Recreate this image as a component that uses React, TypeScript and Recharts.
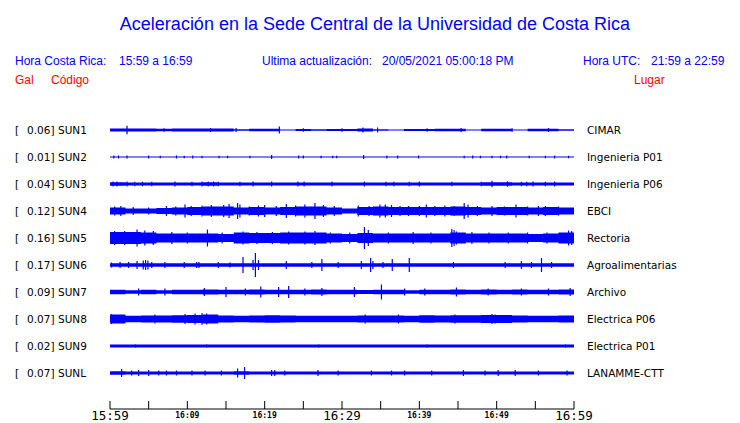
import React from 'react';
import { ComposedChart, Area, Line, XAxis, YAxis } from 'recharts';

// ---------------- data ----------------
const stationCodes = ['SUN1', 'SUN2', 'SUN3', 'SUN4', 'SUN5', 'SUN6', 'SUN7', 'SUN8', 'SUN9', 'SUNL'];
const stationGal = [0.06, 0.01, 0.04, 0.12, 0.16, 0.17, 0.09, 0.07, 0.02, 0.07];
const stationPlaces = ['CIMAR', 'Ingenieria P01', 'Ingenieria P06', 'EBCI', 'Rectoria', 'Agroalimentarias', 'Archivo', 'Electrica P06', 'Electrica P01', 'LANAMME-CTT'];

const timeTickMinutes = [0, 5, 10, 15, 20, 25, 30, 35, 40, 45, 50, 55, 60];
const timeTickLabels = ['15:59', '', '16:09', '', '16:19', '', '16:29', '', '16:39', '', '16:49', '', '16:59'];

const headerTitle = 'Aceleración en la Sede Central de la Universidad de Costa Rica';
const localTime = '15:59 a 16:59';
const updateTime = '20/05/2021 05:00:18 PM';
const utcTime = '21:59 a 22:59';

// envelope half-amplitude of each trace, every 2 minutes (30 bins)
const sun1Band = [1.4, 1.4, 1.4, 1.3, 1.4, 1.4, 1.4, 1.4, 0.7, 1.2, 1.3, 0.6, 1.1, 0.7, 1.1, 1.1, 1.6, 0.7, 0.6, 1.1, 1.1, 1.2, 1.2, 0.6, 1.2, 1.2, 0.6, 1.3, 1.3, 0.8];
const sun2Band = [0.6, 0.6, 0.6, 0.6, 0.6, 0.6, 0.6, 0.6, 0.6, 0.6, 0.6, 0.6, 0.6, 0.6, 0.6, 0.6, 0.6, 0.6, 0.6, 0.6, 0.6, 0.6, 0.6, 0.6, 0.6, 0.6, 0.6, 0.6, 0.6, 0.6];
const sun3Band = [1.7, 1.6, 1.6, 1.6, 1.6, 1.6, 1.7, 1.6, 1.6, 1.6, 1.6, 1.6, 1.6, 1.6, 1.6, 1.6, 1.6, 1.6, 1.6, 1.6, 1.6, 1.6, 1.6, 1.6, 1.7, 1.7, 1.6, 1.6, 1.6, 1.6];
const sun4Band = [3.5, 2.5, 2.5, 3.0, 3.5, 4.0, 4.5, 4.5, 3.5, 4.0, 3.5, 4.0, 4.5, 4.5, 3.5, 2.5, 4.0, 4.5, 4.0, 4.0, 4.0, 4.0, 4.5, 4.0, 3.5, 4.0, 4.0, 3.5, 4.0, 3.5];
const sun5Band = [6.0, 6.0, 5.5, 4.5, 4.5, 4.5, 4.5, 4.0, 5.5, 5.0, 5.0, 5.5, 5.5, 5.5, 4.5, 4.0, 5.0, 4.5, 4.5, 4.5, 4.5, 4.5, 5.5, 4.5, 4.5, 4.5, 4.5, 4.0, 4.5, 5.5];
const sun6Band = [1.8, 1.8, 1.8, 1.7, 1.7, 1.7, 1.7, 1.7, 1.8, 1.7, 1.7, 1.7, 1.7, 1.7, 1.7, 1.7, 1.8, 1.7, 1.7, 1.7, 1.7, 1.7, 1.7, 1.7, 1.7, 1.7, 1.7, 1.8, 1.7, 1.7];
const sun7Band = [2.3, 1.8, 2.2, 1.8, 2.3, 2.2, 2.4, 2.3, 2.2, 2.4, 2.3, 2.3, 2.2, 2.4, 2.2, 2.3, 2.0, 2.3, 2.2, 1.8, 2.3, 2.2, 2.4, 2.3, 2.4, 2.3, 2.4, 2.2, 2.2, 2.4];
const sun8Band = [4.5, 3.3, 3.5, 3.5, 3.8, 4.0, 4.5, 3.5, 3.3, 3.5, 3.8, 3.5, 3.3, 3.3, 3.3, 3.3, 3.5, 3.5, 3.5, 3.3, 3.8, 3.5, 3.8, 3.8, 4.0, 4.0, 3.5, 3.3, 3.3, 3.5];
const sun9Band = [1.4, 1.4, 1.4, 1.4, 1.4, 1.4, 1.4, 1.4, 1.4, 1.4, 1.4, 1.4, 1.4, 1.4, 1.4, 1.4, 1.4, 1.4, 1.4, 1.4, 1.4, 1.4, 1.4, 1.4, 1.4, 1.4, 1.4, 1.4, 1.4, 1.4];
const sunLBand = [1.7, 1.6, 1.6, 1.6, 1.6, 1.6, 1.6, 1.6, 1.7, 1.6, 1.6, 1.6, 1.6, 1.6, 1.6, 1.6, 1.6, 1.6, 1.6, 1.6, 1.6, 1.6, 1.6, 1.6, 1.6, 1.6, 1.6, 1.6, 1.6, 1.6];

// spikes: [minute, half-amplitude]
const sun1Spikes = [[2.2, 4.3], [7.0, 1.8], [13.0, 2.0], [16.3, 2.0], [21.9, 3.5], [25.0, 1.8], [30.0, 1.7], [32.7, 2.5], [34.6, 2.5], [41.0, 1.7], [45.4, 2.0], [52.0, 1.8], [56.7, 2.0]];
const sun2Spikes = [[0.5, 1.5], [1.1, 1.5], [2.2, 1.5], [5.0, 1.5], [6.5, 1.2], [8.6, 1.5], [9.6, 1.2], [10.7, 1.5], [11.9, 1.2], [14.1, 1.2], [15.2, 1.2], [18.1, 1.2], [20.9, 2.0], [24.4, 1.5], [25.0, 1.5], [27.3, 1.2], [28.8, 1.2], [29.3, 1.2], [32.8, 2.0], [35.8, 1.5], [37.2, 1.5], [39.9, 1.5], [45.8, 1.2], [46.9, 1.5], [47.9, 1.2], [49.4, 1.2], [50.5, 1.2], [51.3, 1.5], [54.2, 1.2], [56.3, 1.2], [57.5, 1.5], [59.3, 1.2]];
const sun3Spikes = [[0.4, 2.5], [0.9, 2.5], [2.2, 2.5], [3.2, 2.3], [4.2, 2.3], [5.4, 2.3], [8.4, 2.5], [10.6, 2.3], [11.9, 2.5], [12.7, 2.5], [13.4, 2.5], [14.0, 2.3], [16.8, 2.3], [18.5, 2.5], [20.9, 2.5], [24.3, 2.5], [25.1, 2.5], [28.7, 2.5], [32.9, 2.5], [35.7, 2.3], [36.7, 2.3], [38.7, 2.3], [40.0, 2.5], [44.2, 2.3], [48.0, 2.3], [49.4, 3.3], [51.4, 2.8], [53.2, 2.3], [53.9, 2.3], [54.7, 2.5], [56.3, 2.3], [57.5, 2.5]];
const sun4Spikes = [[0.6, 4.5], [1.4, 5.0], [3.0, 4.0], [5.0, 3.5], [7.3, 5.0], [8.5, 4.5], [9.7, 6.5], [10.5, 5.0], [11.9, 5.5], [13.1, 6.0], [14.7, 6.0], [15.4, 7.0], [16.5, 8.0], [16.8, 6.5], [18.0, 4.5], [19.2, 5.5], [20.0, 6.0], [21.5, 5.0], [22.8, 7.0], [24.0, 5.5], [25.2, 6.5], [26.5, 8.0], [27.6, 6.0], [29.0, 5.0], [32.1, 5.5], [33.5, 5.0], [34.9, 6.5], [35.6, 6.5], [36.4, 6.0], [37.5, 5.0], [38.6, 5.0], [40.0, 5.0], [40.9, 6.5], [42.0, 5.0], [43.3, 5.5], [44.5, 5.0], [45.8, 8.0], [46.3, 6.5], [47.5, 5.0], [49.4, 5.0], [51.0, 4.5], [52.5, 6.5], [54.0, 4.5], [55.4, 5.0], [56.3, 5.0], [58.0, 4.5]];
const sun5Spikes = [[0.6, 7.0], [1.9, 7.0], [3.5, 8.5], [4.5, 7.5], [5.6, 7.0], [8.0, 6.0], [10.0, 5.5], [12.6, 8.5], [14.5, 5.5], [17.2, 6.5], [19.0, 6.0], [21.0, 6.0], [23.1, 6.5], [25.2, 6.5], [26.5, 7.0], [28.5, 5.5], [31.0, 5.5], [32.9, 11.0], [33.4, 8.0], [36.0, 5.5], [39.2, 6.0], [41.5, 5.5], [44.2, 9.0], [44.5, 8.0], [44.8, 6.5], [46.8, 6.0], [49.0, 5.5], [51.5, 5.5], [54.0, 5.5], [56.5, 5.5], [59.3, 7.5], [59.7, 7.0]];
const sun6Spikes = [[0.2, 2.5], [1.3, 3.0], [2.4, 3.0], [3.5, 4.0], [4.3, 4.5], [4.6, 5.0], [4.9, 4.5], [5.4, 3.0], [7.1, 3.0], [9.6, 3.0], [11.2, 3.0], [11.5, 3.0], [14.0, 3.0], [15.5, 2.5], [17.2, 8.0], [18.5, 5.0], [18.8, 12.0], [19.2, 5.0], [22.8, 4.0], [26.1, 3.0], [27.4, 6.0], [29.5, 3.0], [32.5, 4.0], [33.7, 7.0], [34.0, 4.0], [35.3, 3.0], [36.5, 6.0], [38.7, 7.0], [44.4, 3.0], [51.1, 3.0], [53.2, 4.0], [54.5, 3.0], [55.8, 7.0], [57.1, 3.0]];
const sun7Spikes = [[3.7, 3.5], [7.1, 3.5], [12.2, 4.0], [15.0, 5.0], [17.5, 3.5], [19.5, 5.5], [21.8, 5.0], [23.1, 6.0], [25.2, 3.5], [27.4, 4.0], [31.6, 5.0], [35.1, 7.5], [38.1, 3.5], [40.7, 3.5], [44.8, 4.5], [48.9, 3.5], [53.2, 3.5], [56.7, 3.5], [59.5, 4.0]];
const sun8Spikes = [[0.2, 5.0], [5.8, 4.5], [9.7, 5.0], [11.0, 5.5], [11.9, 6.0], [12.5, 5.5], [33.0, 4.5], [37.3, 4.5], [44.6, 4.5], [49.4, 5.0], [49.8, 4.5]];
const sun9Spikes = [[3.3, 1.6], [12.5, 1.6], [27.0, 1.6], [41.0, 1.6], [58.9, 1.6]];
const sunLSpikes = [[1.5, 4.0], [2.8, 2.5], [3.7, 3.0], [5.0, 3.0], [6.3, 2.5], [7.3, 2.5], [8.6, 2.5], [10.6, 2.5], [12.3, 2.5], [14.4, 2.5], [16.5, 4.5], [17.4, 6.0], [20.9, 3.0], [21.3, 3.0], [22.6, 2.5], [26.9, 3.0], [29.5, 2.5], [33.8, 2.5], [36.4, 2.5], [38.1, 2.5], [41.6, 2.5], [45.7, 3.0], [48.5, 2.5], [50.2, 3.0], [52.4, 3.0], [55.4, 2.5], [59.1, 2.5]];

const bands = [sun1Band, sun2Band, sun3Band, sun4Band, sun5Band, sun6Band, sun7Band, sun8Band, sun9Band, sunLBand];
const spikes = [sun1Spikes, sun2Spikes, sun3Spikes, sun4Spikes, sun5Spikes, sun6Spikes, sun7Spikes, sun8Spikes, sun9Spikes, sunLSpikes];

// ---------------- layout ----------------
const W = 740;
const H = 423;
const PLOT_LEFT = 110;
const PLOT_RIGHT = 574;
const PLOT_TOP = 103;
const AXIS_Y = 409;
const ROW0 = 130;
const ROW_STEP = 27;
const BAND_STEP = 2;
const BLUE = '#0000ff';
const RED = '#ff0000';

const rowCenterValue = (i: number) => AXIS_Y - (ROW0 + ROW_STEP * i);

const chartData = Array.from({ length: 31 }, (_, k) => {
  const row: any = { t: Math.min(k * BAND_STEP, 60) };
  bands.forEach((b, i) => {
    const a = b[Math.min(k, b.length - 1)];
    const c = rowCenterValue(i);
    row[`b${i}`] = [c - a, c + a];
  });
  return row;
});

const spikeData = spikes.map((list, i) => {
  const c = rowCenterValue(i);
  const out: any[] = [];
  list.forEach(([m, a]) => {
    out.push({ t: m, v: c - a });
    out.push({ t: m, v: c + a });
    out.push({ t: m, v: null });
  });
  return out;
});

const TimeTick = (props: any) => {
  const { x, y, payload } = props;
  const idx = timeTickMinutes.indexOf(payload.value);
  const label = timeTickLabels[idx] || '';
  const big = payload.value % 30 === 0;
  return (
    <g>
      <line x1={x} y1={y - 8} x2={x} y2={y} stroke="#000" strokeWidth={1} />
      {label ? (
        <text
          x={x}
          y={big ? y + 11 : y + 9}
          textAnchor="middle"
          fontSize={big ? 12.5 : 8}
          fontWeight={big ? 'normal' : 'bold'}
          fontFamily="'DejaVu Sans Mono', monospace"
          fill="#000"
        >
          {label}
        </text>
      ) : null}
    </g>
  );
};

export default function App() {
  const sans = "'Liberation Sans', Arial, sans-serif";
  const dv = "'DejaVu Sans', sans-serif";
  return (
    <div style={{ position: 'absolute', left: 0, top: 0, width: W, height: H, background: '#fff' }}>
      <ComposedChart
        width={W}
        height={H}
        data={chartData}
        margin={{ top: PLOT_TOP, right: W - PLOT_RIGHT, bottom: 0, left: PLOT_LEFT }}
      >
        <XAxis
          dataKey="t"
          type="number"
          domain={[0, 60]}
          ticks={timeTickMinutes}
          interval={0}
          allowDataOverflow
          height={H - AXIS_Y}
          tickSize={0}
          tickMargin={0}
          tickLine={false}
          axisLine={{ stroke: '#000', strokeWidth: 1 }}
          tick={<TimeTick />}
        />
        <YAxis type="number" domain={[0, AXIS_Y - PLOT_TOP]} hide allowDataOverflow />
        {bands.map((_, i) => (
          <Area
            key={`a${i}`}
            dataKey={`b${i}`}
            type="stepAfter"
            stroke="none"
            fill={BLUE}
            fillOpacity={1}
            dot={false}
            activeDot={false}
            isAnimationActive={false}
          />
        ))}
        {spikeData.map((d, i) => (
          <Line
            key={`s${i}`}
            data={d}
            dataKey="v"
            type="linear"
            stroke={BLUE}
            strokeWidth={1.2}
            dot={false}
            activeDot={false}
            connectNulls={false}
            isAnimationActive={false}
          />
        ))}
      </ComposedChart>
      <svg width={W} height={H} style={{ position: 'absolute', left: 0, top: 0, pointerEvents: 'none' }}>
        <text x={375} y={30} textAnchor="middle" fontSize={18} fontFamily={sans} fill={BLUE}>{headerTitle}</text>
        <text x={15} y={65} fontSize={12} fontFamily={sans} fill={BLUE}>Hora Costa Rica:</text>
        <text x={119} y={65} fontSize={12} fontFamily={sans} fill={BLUE}>{localTime}</text>
        <text x={262} y={65} fontSize={12} fontFamily={sans} fill={BLUE}>Ultima actualización:</text>
        <text x={382} y={65} fontSize={12} fontFamily={sans} fill={BLUE}>{updateTime}</text>
        <text x={583} y={65} fontSize={12} fontFamily={sans} fill={BLUE}>Hora UTC:</text>
        <text x={651} y={65} fontSize={12} fontFamily={sans} fill={BLUE}>{utcTime}</text>
        <text x={15} y={84} fontSize={12} fontFamily={sans} fill={RED}>Gal</text>
        <text x={51} y={84} fontSize={12} fontFamily={sans} fill={RED}>Código</text>
        <text x={634} y={84} fontSize={12} fontFamily={sans} fill={RED}>Lugar</text>
        {stationCodes.map((code, i) => {
          const y = ROW0 + ROW_STEP * i + 4;
          return (
            <g key={code}>
              <text x={15} y={y} fontSize={10.5} fontFamily={dv} fill="#000">[</text>
              <text x={27} y={y} fontSize={10.5} fontFamily={dv} fill="#000">{`${stationGal[i].toFixed(2)}]`}</text>
              <text x={58} y={y} fontSize={10.5} fontFamily={dv} fill="#000">{code}</text>
              <text x={587} y={y} fontSize={10.5} fontFamily={dv} fill="#000">{stationPlaces[i]}</text>
            </g>
          );
        })}
      </svg>
    </div>
  );
}
